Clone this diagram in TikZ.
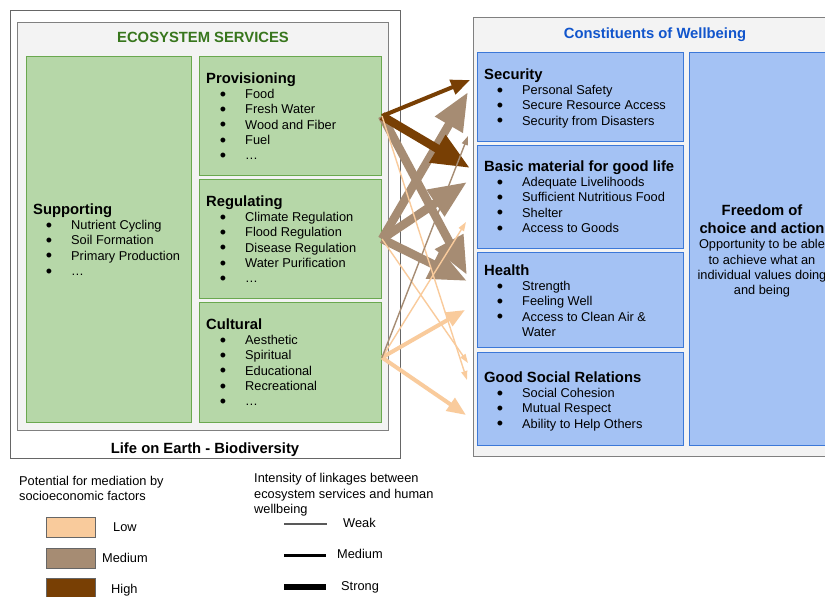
\documentclass[tikz,border=0pt]{standalone}
\usepackage{fontspec}
\setmainfont{Liberation Sans}
\usetikzlibrary{arrows.meta}
\definecolor{esgreen}{HTML}{38761D}
\definecolor{boxgreen}{HTML}{B6D7A8}
\definecolor{bordgreen}{HTML}{6AA84F}
\definecolor{wbblue}{HTML}{1155CC}
\definecolor{boxblue}{HTML}{A4C2F4}
\definecolor{bordblue}{HTML}{3C78D8}
\definecolor{panel}{HTML}{F3F3F3}
\definecolor{framedark}{HTML}{666666}
\definecolor{framemid}{HTML}{808080}
\definecolor{lowc}{HTML}{F9CB9C}
\definecolor{medc}{HTML}{A68C73}
\definecolor{highc}{HTML}{783F04}
\definecolor{weakline}{HTML}{595959}
\newcommand{\ESbody}{\fontsize{12.8}{15.3}\selectfont}
\newcommand{\EShead}{\fontsize{14.8}{17}\selectfont\bfseries}
\newcommand{\ESbul}{\smash{\llap{\raisebox{-1.6pt}{\fontsize{18}{18}\selectfont\textbullet}\hspace{19pt}}}}
\tikzset{
  boxbase/.style={rectangle, anchor=north west, inner sep=0pt, line width=1pt},
  outerframe/.style={boxbase, draw=framedark},
  panelbox/.style={boxbase, draw=framemid, fill=panel},
  svcbox/.style={boxbase, draw=bordgreen, fill=boxgreen},
  wbbox/.style={boxbase, draw=bordblue, fill=boxblue},
  swatch/.style={boxbase, draw=framedark, minimum width=49pt, minimum height=20pt},
  itemtext/.style={anchor=base west, inner sep=0pt, font=\ESbody},
  headtext/.style={anchor=base west, inner sep=0pt, font=\EShead},
  centertext/.style={anchor=base, inner sep=0pt},
  strongarr/.style={line width=8.5pt, -{Triangle[length=38pt,width=30pt]}},
  medarr/.style={line width=4pt, -{Triangle[length=19pt,width=15pt]}},
  weakarr/.style={line width=1.4pt, -{Triangle[length=9pt,width=6pt]}},
}
\begin{document}
\begin{tikzpicture}[x=1pt,y=-1pt]
\useasboundingbox (0,0) rectangle (825,597);
\clip (0,0) rectangle (825,597);
\fill[white] (0,0) rectangle (825,597);

% ---------- left side: ecosystem services ----------
\node[outerframe, minimum width=390pt, minimum height=448pt] (life) at (10,10) {};
\node[panelbox, minimum width=371pt, minimum height=408pt] (es) at (17,22) {};
\node[centertext, font=\EShead, text=esgreen] (es-title) at (203,42.3) {ECOSYSTEM SERVICES};
\node[svcbox, minimum width=165pt, minimum height=366pt] (supp) at (26,56) {};
\node[svcbox, minimum width=182pt, minimum height=119pt] (prov) at (199,56) {};
\node[svcbox, minimum width=182pt, minimum height=119pt] (reg) at (199,179) {};
\node[svcbox, minimum width=182pt, minimum height=120pt] (cult) at (199,302) {};
\node[centertext, font=\EShead] (life-title) at (205,453) {Life on Earth - Biodiversity};

\node[headtext] (supp-h) at (33,214) {Supporting};
\foreach \t [count=\i from 0] in {Nutrient Cycling, Soil Formation, Primary Production, …}
  \node[itemtext] (supp-\i) at (71,{229.6+15.3*\i}) {\ESbul\t};

\node[headtext] (prov-h) at (206,83) {Provisioning};
\foreach \t [count=\i from 0] in {Food, Fresh Water, Wood and Fiber, Fuel, …}
  \node[itemtext] (prov-\i) at (245,{98.6+15.3*\i}) {\ESbul\t};

\node[headtext] (reg-h) at (206,206) {Regulating};
\foreach \t [count=\i from 0] in {Climate Regulation, Flood Regulation, Disease Regulation, Water Purification, …}
  \node[itemtext] (reg-\i) at (245,{221.6+15.3*\i}) {\ESbul\t};

\node[headtext] (cult-h) at (206,329) {Cultural};
\foreach \t [count=\i from 0] in {Aesthetic, Spiritual, Educational, Recreational, …}
  \node[itemtext] (cult-\i) at (245,{344.6+15.3*\i}) {\ESbul\t};

% ---------- right side: constituents of wellbeing ----------
\node[panelbox, minimum width=372pt, minimum height=439pt] (wb) at (473,17) {};
\node[centertext, font=\EShead, text=wbblue] (wb-title) at (655,38.3) {Constituents of Wellbeing};
\node[wbbox, minimum width=206pt, minimum height=89pt] (sec) at (477,52) {};
\node[wbbox, minimum width=206pt, minimum height=103pt] (bas) at (477,145) {};
\node[wbbox, minimum width=206pt, minimum height=95pt] (hea) at (477,252) {};
\node[wbbox, minimum width=206pt, minimum height=93pt] (gsr) at (477,352) {};
\node[wbbox, minimum width=146pt, minimum height=393pt] (free) at (689,52) {};

\node[headtext] (sec-h) at (484,79.3) {Security};
\foreach \t [count=\i from 0] in {Personal Safety, Secure Resource Access, Security from Disasters}
  \node[itemtext] (sec-\i) at (522,{94.6+15.3*\i}) {\ESbul\t};

\node[headtext] (bas-h) at (484,171.3) {Basic material for good life};
\foreach \t [count=\i from 0] in {Adequate Livelihoods, Sufficient Nutritious Food, Shelter, Access to Goods}
  \node[itemtext] (bas-\i) at (522,{186.6+15.3*\i}) {\ESbul\t};

\node[headtext] (hea-h) at (484,275.3) {Health};
\foreach \t [count=\i from 0] in {Strength, Feeling Well, Access to Clean Air \&}
  \node[itemtext] (hea-\i) at (522,{290.6+15.3*\i}) {\ESbul\t};
\node[itemtext] (hea-3) at (522,336.5) {Water};

\node[headtext] (gsr-h) at (484,382.3) {Good Social Relations};
\foreach \t [count=\i from 0] in {Social Cohesion, Mutual Respect, Ability to Help Others}
  \node[itemtext] (gsr-\i) at (522,{397.6+15.3*\i}) {\ESbul\t};

\node[centertext, font=\EShead] (free-h1) at (762,215.5) {Freedom of};
\node[centertext, font=\EShead] (free-h2) at (762,233.5) {choice and action};
\node[centertext, font=\ESbody] (free-1) at (762,248.6) {Opportunity to be able};
\node[centertext, font=\ESbody] (free-2) at (762,264) {to achieve what an};
\node[centertext, font=\ESbody] (free-3) at (762,279.4) {individual values doing};
\node[centertext, font=\ESbody] (free-4) at (762,294.7) {and being};

% ---------- linkage arrows ----------
\coordinate (cult-o) at ([yshift=5pt]cult.east);
\coordinate (sec-t1) at (470,80);
\coordinate (sec-t2) at (468,92);
\coordinate (sec-t3) at (468,136);
\coordinate (bas-t1) at (470,168);
\coordinate (bas-t2) at (467,182);
\coordinate (bas-t3) at (466,222);
\coordinate (hea-t1) at (467,275);
\coordinate (hea-t2) at (467,281);
\coordinate (hea-t3) at (465,310);
\coordinate (gsr-t1) at (468,363);
\coordinate (gsr-t2) at (467,380);
\coordinate (gsr-t3) at (466,415);

\draw[strongarr, medc] (reg.east) -- (sec-t2);
\draw[strongarr, medc] (reg.east) -- (bas-t2);
\draw[strongarr, medc] (reg.east) -- (hea-t2);
\draw[strongarr, medc] (prov.east) -- (hea-t1);
\draw[strongarr, highc] (prov.east) -- (bas-t1);
\draw[medarr, highc] (prov.east) -- (sec-t1);
\draw[medarr, lowc] (cult-o) -- (hea-t3);
\draw[medarr, lowc] (cult-o) -- (gsr-t3);
\draw[weakarr, lowc] (prov.east) -- (gsr-t2);
\draw[weakarr, lowc] (reg.east) -- (gsr-t1);
\draw[weakarr, lowc] (cult-o) -- (bas-t3);
\draw[weakarr, medc] (cult-o) -- (sec-t3);

% ---------- legend ----------
\node[anchor=base west, inner sep=0pt, font=\ESbody] (leg1-a) at (19,485.6) {Potential for mediation by};
\node[anchor=base west, inner sep=0pt, font=\ESbody] (leg1-b) at (19,500.6) {socioeconomic factors};
\node[swatch, fill=lowc] (sw-low) at (46,517) {};
\node[swatch, fill=medc] (sw-med) at (46,548) {};
\node[swatch, fill=highc] (sw-high) at (46,578) {};
\node[anchor=base west, inner sep=0pt, font=\ESbody] (sw-low-l) at (113,531.6) {Low};
\node[anchor=base west, inner sep=0pt, font=\ESbody] (sw-med-l) at (102,562.6) {Medium};
\node[anchor=base west, inner sep=0pt, font=\ESbody] (sw-high-l) at (111,593.6) {High};

\node[anchor=base west, inner sep=0pt, font=\ESbody] (leg2-a) at (254,482.6) {Intensity of linkages between};
\node[anchor=base west, inner sep=0pt, font=\ESbody] (leg2-b) at (254,498) {ecosystem services and human};
\node[anchor=base west, inner sep=0pt, font=\ESbody] (leg2-c) at (254,513.3) {wellbeing};
\coordinate (wk-a) at (284,524);
\coordinate (wk-b) at (327,524);
\coordinate (md-a) at (284,555);
\coordinate (md-b) at (326,555);
\coordinate (st-a) at (284,587);
\coordinate (st-b) at (326,587);
\draw[weakline, line width=1.6pt] (wk-a) -- (wk-b);
\draw[black, line width=3pt] (md-a) -- (md-b);
\draw[black, line width=6pt] (st-a) -- (st-b);
\node[anchor=base west, inner sep=0pt, font=\ESbody] (wk-l) at (343,527.6) {Weak};
\node[anchor=base west, inner sep=0pt, font=\ESbody] (md-l) at (337,558.6) {Medium};
\node[anchor=base west, inner sep=0pt, font=\ESbody] (st-l) at (341,590.6) {Strong};
\end{tikzpicture}
\end{document}
